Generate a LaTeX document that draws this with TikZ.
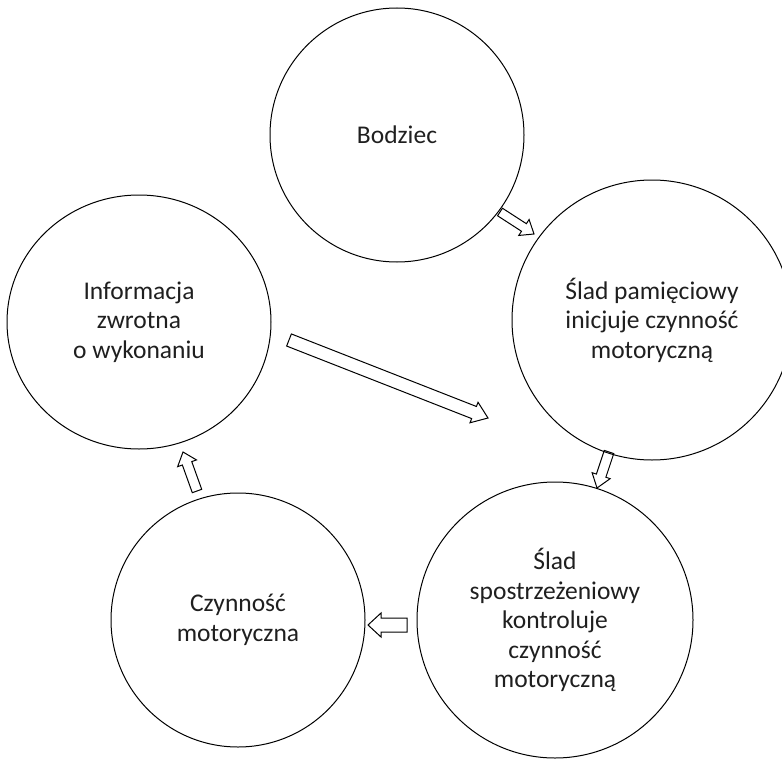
\documentclass[tikz,border=0pt]{standalone}
\usepackage{fontspec}
\setmainfont{Carlito}
\usetikzlibrary{calc,shapes.geometric}

\tikzset{
  stagetext/.style={align=center, text=black!88,
    font=\fontsize{25.5}{29.5}\selectfont},
  stage/.style={circle, draw=black, line width=1pt, inner sep=0pt,
    minimum size=#1, stagetext},
  oval/.style={ellipse, draw=black, line width=1pt, inner sep=0pt, stagetext},
  hollow/.style={draw=black, line width=1pt, line join=miter},
}

% Outlined block arrow: from, to, shaft half-width, head half-width, head length
\newcommand{\hollowarrow}[5]{%
  \draw[hollow] let \p1=($(#2)-(#1)$), \n1={atan2(\y1,\x1)} in
    ($(#1)+(\n1+90:#3)$)
    -- ($(#2)+(\n1+180:#5)+(\n1+90:#3)$)
    -- ($(#2)+(\n1+180:#5)+(\n1+90:#4)$)
    -- (#2)
    -- ($(#2)+(\n1+180:#5)+(\n1-90:#4)$)
    -- ($(#2)+(\n1+180:#5)+(\n1-90:#3)$)
    -- ($(#1)+(\n1-90:#3)$) -- cycle;}

\begin{document}
\begin{tikzpicture}[x=1pt,y=-1pt]
  \useasboundingbox (0,0) rectangle (782,760);

  % the five stages of the loop
  \node[stage=254pt] (bodziec) at (397,135) {Bodziec};
  \node[stage=280pt] (pamiec) at (652,320)
    {Ślad pamięciowy\\inicjuje czynność\\motoryczną};
  \node[stage=276pt] (spostrz) at (555,620)
    {Ślad\\spostrzeżeniowy\\kontroluje\\czynność\\motoryczną};
  \node[stage=254pt] (czynnosc) at (238,620) {Czynność\\motoryczna};
  \node[oval, minimum width=264pt, minimum height=254pt] (info) at (139,322)
    {Informacja\\zwrotna\\o wykonaniu};

  % arrow end points
  \coordinate (a1s) at (500,212);  \coordinate (a1e) at (534,234);
  \coordinate (a2s) at (289,340);  \coordinate (a2e) at (488,418);
  \coordinate (a3s) at (609,452);  \coordinate (a3e) at (597,488);
  \coordinate (a4s) at (407,625);  \coordinate (a4e) at (368,625);
  \coordinate (a5s) at (197,491);  \coordinate (a5e) at (183,452);

  % block arrows
  \hollowarrow{a1s}{a1e}{4.5pt}{9.5pt}{12pt}
  \hollowarrow{a2s}{a2e}{6.5pt}{11pt}{15pt}
  \hollowarrow{a3s}{a3e}{5pt}{9.5pt}{13pt}
  \hollowarrow{a4s}{a4e}{7pt}{12pt}{13pt}
  \hollowarrow{a5s}{a5e}{5pt}{10pt}{12pt}
\end{tikzpicture}
\end{document}
